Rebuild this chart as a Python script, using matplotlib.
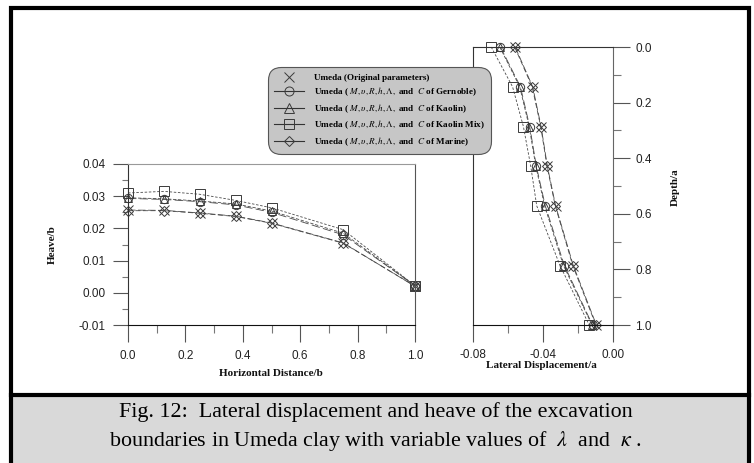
import matplotlib
matplotlib.use("Agg")
import matplotlib.pyplot as plt
from matplotlib.lines import Line2D
from matplotlib.patches import Rectangle
from matplotlib.font_manager import FontProperties
from matplotlib.ticker import MultipleLocator, FormatStrFormatter

plt.rcParams['mathtext.fontset'] = 'stix'

# ---- data -------------------------------------------------------------
series_names = [
    "Umeda (Original parameters)",
    r"Umeda ( $M, \upsilon, R, h, \Lambda,$ and  $C$ of Gernoble)",
    r"Umeda ( $M, \upsilon, R, h, \Lambda,$ and  $C$ of Kaolin)",
    r"Umeda ( $M, \upsilon, R, h, \Lambda,$ and  $C$ of Kaolin Mix)",
    r"Umeda ( $M, \upsilon, R, h, \Lambda,$ and  $C$ of Marine)",
]

# heave of the excavation base
distance = [0.0, 0.125, 0.25, 0.375, 0.5, 0.75, 1.0]
heave_original = [0.0257, 0.0256, 0.0248, 0.0238, 0.0217, 0.0155, 0.0020]
heave_grenoble = [0.0293, 0.0290, 0.0283, 0.0273, 0.0250, 0.0180, 0.0022]
heave_kaolin = [0.0295, 0.0292, 0.0285, 0.0276, 0.0254, 0.0185, 0.0022]
heave_kaolin_mix = [0.0310, 0.0315, 0.0306, 0.0287, 0.0264, 0.0196, 0.0022]
heave_marine = [0.0255, 0.0255, 0.0247, 0.0237, 0.0216, 0.0154, 0.0021]

# lateral displacement of the wall
depth = [0.0, 0.143, 0.286, 0.429, 0.571, 0.786, 1.0]
lat_original = [-0.0559, -0.0459, -0.0411, -0.0375, -0.0328, -0.0227, -0.0095]
lat_grenoble = [-0.0643, -0.0529, -0.0476, -0.0438, -0.0387, -0.0278, -0.0117]
lat_kaolin = [-0.0647, -0.0533, -0.0479, -0.0441, -0.0391, -0.0283, -0.0120]
lat_kaolin_mix = [-0.0696, -0.0574, -0.0512, -0.0470, -0.0436, -0.0303, -0.0136]
lat_marine = [-0.0562, -0.0462, -0.0413, -0.0377, -0.0330, -0.0230, -0.0098]

heave_series = [heave_original, heave_grenoble, heave_kaolin, heave_kaolin_mix, heave_marine]
lat_series = [lat_original, lat_grenoble, lat_kaolin, lat_kaolin_mix, lat_marine]

markers = ['x', 'o', '^', 's', 'D']
msizes = [6.5, 6, 6, 6.5, 5]
dashes = [(9, 3), (10, 4), (4, 2), (3, 2), (6, 3)]
line_col = '#4a4a4a'
mark_col = '#3a3a3a'

# ---- figure -----------------------------------------------------------
W, H = 754, 463
fig = plt.figure(figsize=(W / 100, H / 100), dpi=100)
fig.patch.set_facecolor('white')


def fx(px):
    return px / W


def fy(py):
    return 1 - py / H


# caption band and outer frame
fig.add_artist(Rectangle((fx(11), fy(463)), fx(749) - fx(11), fy(395) - fy(463),
                         transform=fig.transFigure, facecolor='#d9d9d9',
                         edgecolor='none', zorder=0))
fig.add_artist(Line2D([fx(11), fx(749)], [fy(395), fy(395)], transform=fig.transFigure,
                      color='black', lw=3.0, zorder=1))
fig.add_artist(Line2D([fx(11), fx(11), fx(749), fx(749)], [fy(466), fy(7.5), fy(7.5), fy(466)],
                      transform=fig.transFigure, color='black', lw=3.0,
                      solid_joinstyle='miter', zorder=1))

tick_font = FontProperties(family='Liberation Sans', size=8.5)
label_font = FontProperties(family='Liberation Serif', weight='bold', size=8)

# ---- left panel: heave --------------------------------------------------
axL = fig.add_axes([fx(128), fy(325), fx(415) - fx(128), fy(164) - fy(325)])
for ys, m, ms, d in zip(heave_series, markers, msizes, dashes):
    axL.plot(distance, ys, color=line_col, lw=0.6, dashes=d, marker=m, ms=ms,
             mfc='none', mec=mark_col, mew=0.7, clip_on=False)
axL.set_xlim(0, 1.0)
axL.set_ylim(-0.01, 0.04)
axL.xaxis.set_major_locator(MultipleLocator(0.2))
axL.xaxis.set_minor_locator(MultipleLocator(0.1))
axL.yaxis.set_major_locator(MultipleLocator(0.01))
axL.yaxis.set_minor_locator(MultipleLocator(0.005))
axL.xaxis.set_major_formatter(FormatStrFormatter('%.1f'))
axL.yaxis.set_major_formatter(FormatStrFormatter('%.2f'))
axL.tick_params(axis='y', which='major', direction='out', length=11, width=0.8,
                color='#555555', pad=5)
axL.tick_params(axis='y', which='minor', direction='out', length=4.5, width=0.8,
                color='#777777')
axL.tick_params(axis='x', which='major', direction='out', length=12, width=0.8,
                color='#555555', pad=6)
axL.tick_params(axis='x', which='minor', direction='out', length=6, width=0.8,
                color='#777777')
for lab in axL.get_xticklabels() + axL.get_yticklabels():
    lab.set_fontproperties(tick_font)
    lab.set_color('#222222')
axL.spines['left'].set_color('#333333')
axL.spines['bottom'].set_color('#111111')
axL.spines['top'].set_color('#999999')
axL.spines['right'].set_color('#555555')
for s in axL.spines.values():
    s.set_linewidth(0.8)

fig.text(fx(271), fy(373), "Horizontal Distance/b", fontproperties=label_font,
         ha='center', va='center', color='#111111')
fig.text(fx(52), fy(245), "Heave/b", fontproperties=label_font, rotation=90,
         ha='center', va='center', color='#111111')

# ---- right panel: lateral displacement ----------------------------------
axR = fig.add_axes([fx(473), fy(325), fx(613) - fx(473), fy(47) - fy(325)])
for xs, m, ms, d in zip(lat_series, markers, msizes, dashes):
    axR.plot(xs, depth, color=line_col, lw=0.6, dashes=d, marker=m, ms=ms,
             mfc='none', mec=mark_col, mew=0.7, clip_on=False)
axR.set_xlim(-0.08, 0.0)
axR.set_ylim(1.0, 0.0)
axR.yaxis.tick_right()
axR.xaxis.set_major_locator(MultipleLocator(0.04))
axR.xaxis.set_minor_locator(MultipleLocator(0.02))
axR.yaxis.set_major_locator(MultipleLocator(0.2))
axR.yaxis.set_minor_locator(MultipleLocator(0.1))
axR.xaxis.set_major_formatter(FormatStrFormatter('%.2f'))
axR.yaxis.set_major_formatter(FormatStrFormatter('%.1f'))
axR.tick_params(axis='y', which='major', direction='out', length=12, width=0.8,
                color='#555555', pad=4)
axR.tick_params(axis='y', which='minor', direction='out', length=6, width=0.8,
                color='#777777')
axR.tick_params(axis='x', which='major', direction='out', length=12, width=0.8,
                color='#555555', pad=5)
axR.tick_params(axis='x', which='minor', direction='out', length=6, width=0.8,
                color='#777777')
for lab in axR.get_xticklabels() + axR.get_yticklabels():
    lab.set_fontproperties(tick_font)
    lab.set_color('#222222')
axR.spines['left'].set_color('#333333')
axR.spines['bottom'].set_color('#111111')
axR.spines['top'].set_color('#333333')
axR.spines['right'].set_color('#666666')
for s in axR.spines.values():
    s.set_linewidth(0.8)

fig.text(fx(541), fy(366), "Lateral Displacement/a", fontproperties=label_font,
         ha='center', va='center', color='#111111')
fig.text(fx(675), fy(187), "Depth/a", fontproperties=label_font, rotation=90,
         ha='center', va='center', color='#111111')

# ---- legend -------------------------------------------------------------
handles = []
for i, (m, ms) in enumerate(zip(markers, msizes)):
    handles.append(Line2D([], [], color='#333333', lw=0.8 if i else 0,
                          marker=m, ms=ms + 0.5, mfc='none', mec=mark_col, mew=0.7))
leg = fig.legend(handles, series_names, loc='upper left',
                 bbox_to_anchor=(fx(268), fy(67)), bbox_transform=fig.transFigure,
                 prop=FontProperties(family='Liberation Serif', weight='bold', size=6.6),
                 frameon=True, fancybox=True, facecolor='#c6c6c6', edgecolor='#555555',
                 framealpha=1, handlelength=3.2, handletextpad=1.1, labelspacing=0.42,
                 borderpad=0.7, borderaxespad=0)
leg.get_frame().set_linewidth(0.8)
leg.get_frame().set_boxstyle("round,pad=0,rounding_size=1.4")

# ---- caption ------------------------------------------------------------
cap_font = FontProperties(family='Liberation Serif', size=15.8)
fig.text(fx(376), fy(412), "Fig. 12:  Lateral displacement and heave of the excavation",
         fontproperties=cap_font, ha='center', va='center')
fig.text(fx(376), fy(441),
         r"boundaries in Umeda clay with variable values of  $\lambda$  and  $\kappa$ .",
         fontproperties=cap_font, ha='center', va='center')

fig.savefig("out.png", dpi=100)
